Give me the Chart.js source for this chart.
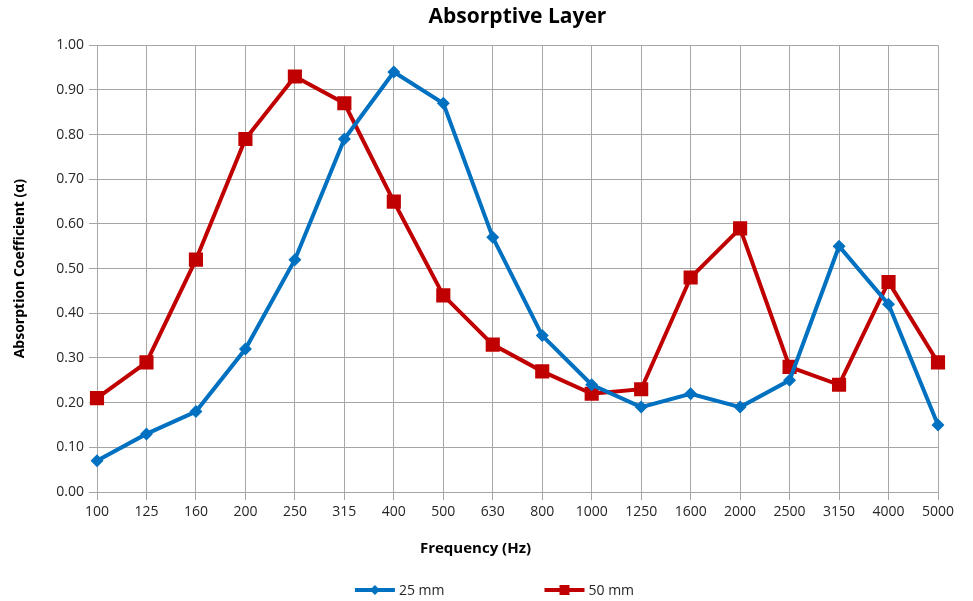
<!DOCTYPE html>
<html lang="en">
<head>
    <meta charset="UTF-8">
    <title>Absorptive Layer</title>
    <script src="https://cdn.jsdelivr.net/npm/chart.js"></script>
    <style>
      html, body { margin: 0; padding: 0; background: #fff; }
      #wrap { width: 973px; height: 601px; }
    </style>
</head>
<body>
    <div id="wrap">
      <canvas id="absorptionChart" width="973" height="601"></canvas>
    </div>

    <script>
      // Frequency bands (Hz)
      const frequencies = ['100', '125', '160', '200', '250', '315', '400', '500', '630',
                           '800', '1000', '1250', '1600', '2000', '2500', '3150', '4000', '5000'];

      // Absorption coefficients
      const layer25mm = [0.07, 0.13, 0.18, 0.32, 0.52, 0.79, 0.94, 0.87, 0.57,
                         0.35, 0.24, 0.19, 0.22, 0.19, 0.25, 0.55, 0.42, 0.15];
      const layer50mm = [0.21, 0.29, 0.52, 0.79, 0.93, 0.87, 0.65, 0.44, 0.33,
                         0.27, 0.22, 0.23, 0.48, 0.59, 0.28, 0.24, 0.47, 0.29];

      const seriesLabels = ['25 mm', '50 mm'];
      const yTicks = [0, 0.1, 0.2, 0.3, 0.4, 0.5, 0.6, 0.7, 0.8, 0.9, 1.0];
      const xAxisTitle = 'Frequency (Hz)';

      const FONT = '"Open Sans", "Liberation Sans", sans-serif';
      const BLUE = '#0070C0';
      const RED = '#C00000';
      const GRID = '#A6A6A6';

      // Excel style bottom part: x axis title (sits a bit left of centre) and
      // a legend made of a line with a marker, then the label
      const bottomLegend = {
        id: 'bottomLegend',
        afterDraw(chart) {
          const ctx = chart.ctx;
          ctx.save();

          // axis title
          ctx.font = 'bold 15px ' + FONT;
          ctx.fillStyle = '#000';
          ctx.textAlign = 'center';
          ctx.textBaseline = 'middle';
          ctx.fillText(xAxisTitle, chart.width / 2 - 11, 549);

          // legend
          const y = 590;
          const lineLen = 40;
          const gap = 100;
          ctx.font = '14px ' + FONT;
          const items = chart.data.datasets.map(ds => ({
            ds: ds,
            w: lineLen + 4 + ctx.measureText(ds.label).width
          }));
          const total = items.reduce((s, it) => s + it.w, 0) + gap * (items.length - 1);
          let x = chart.width / 2 + 8 - total / 2;
          items.forEach(it => {
            const ds = it.ds;
            ctx.strokeStyle = ds.borderColor;
            ctx.lineWidth = 4;
            ctx.beginPath();
            ctx.moveTo(x, y);
            ctx.lineTo(x + lineLen, y);
            ctx.stroke();
            const cx = x + lineLen / 2;
            ctx.fillStyle = ds.borderColor;
            ctx.beginPath();
            if (ds.pointStyle === 'rectRot') {
              ctx.moveTo(cx, y - 5); ctx.lineTo(cx + 5, y);
              ctx.lineTo(cx, y + 5); ctx.lineTo(cx - 5, y);
            } else {
              ctx.rect(cx - 5, y - 5, 10, 10);
            }
            ctx.closePath();
            ctx.fill();
            ctx.fillStyle = '#262626';
            ctx.textBaseline = 'middle';
            ctx.textAlign = 'left';
            ctx.fillText(ds.label, x + lineLen + 4, y + 1);
            x += it.w + gap;
          });
          ctx.restore();
        }
      };

      const ctx = document.getElementById('absorptionChart').getContext('2d');
      new Chart(ctx, {
        type: 'line',
        data: {
          labels: frequencies,
          datasets: [{
            label: seriesLabels[0],
            data: layer25mm,
            borderColor: BLUE,
            backgroundColor: BLUE,
            borderWidth: 4,
            pointStyle: 'rectRot',
            pointRadius: 6.5,
            pointBorderWidth: 0,
            tension: 0
          }, {
            label: seriesLabels[1],
            data: layer50mm,
            borderColor: RED,
            backgroundColor: RED,
            borderWidth: 4,
            pointStyle: 'rect',
            pointRadius: 10,
            pointBorderWidth: 0,
            tension: 0
          }]
        },
        options: {
          responsive: false,
          animation: false,
          layout: { padding: { left: 0, right: 35, top: 0, bottom: 30 } },
          plugins: {
            legend: { display: false },
            tooltip: { enabled: false },
            title: {
              display: true,
              fullSize: false,
              text: 'Absorptive Layer',
              color: '#000',
              font: { family: FONT, size: 21, weight: 'bold' },
              padding: { top: 4, bottom: 16 }
            }
          },
          scales: {
            x: {
              offset: false,
              grid: { color: GRID, lineWidth: 1, tickLength: 8, drawTicks: true },
              border: { color: GRID, width: 1 },
              ticks: {
                color: '#262626',
                font: { family: FONT, size: 14 },
                padding: 4,
                maxRotation: 0,
                autoSkip: false
              },
              afterFit(scale) { scale.height = 79; }
            },
            y: {
              min: 0,
              max: 1,
              afterBuildTicks(scale) { scale.ticks = yTicks.map(v => ({ value: v })); },
              grid: { color: GRID, lineWidth: 1, tickLength: 8 },
              border: { color: GRID, width: 1 },
              ticks: {
                color: '#262626',
                font: { family: FONT, size: 14 },
                padding: 5,
                callback: v => v.toFixed(2)
              },
              title: {
                display: true,
                text: 'Absorption Coefficient (α)',
                color: '#000',
                font: { family: FONT, size: 14, weight: 'bold' },
                padding: { top: 12, bottom: 0 }
              },
              afterFit(scale) { scale.width = 97; }
            }
          }
        },
        plugins: [bottomLegend]
      });
    </script>
</body>
</html>
